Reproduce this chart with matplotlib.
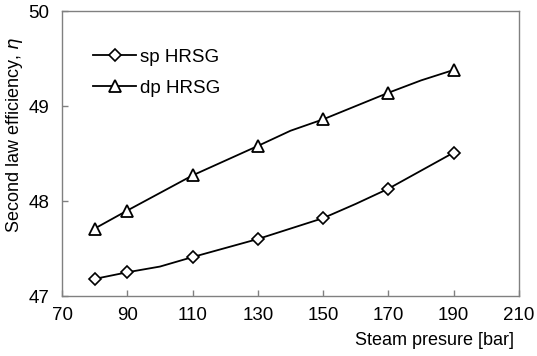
import matplotlib
matplotlib.use('Agg')
import matplotlib.pyplot as plt
import numpy as np

plt.rcParams['font.family'] = ['Liberation Sans', 'DejaVu Sans']
plt.rcParams['mathtext.fontset'] = 'dejavusans'

# steam pressure [bar]
pressure = [80, 90, 100, 110, 130, 150, 160, 170, 190]
sp_eff = [47.18, 47.25, 47.31, 47.41, 47.60, 47.82, 47.97, 48.13, 48.51]
pressure_dp = [80, 90, 110, 130, 140, 150, 170, 180, 190]
dp_eff = [47.71, 47.90, 48.27, 48.58, 48.74, 48.86, 49.14, 49.27, 49.38]
sp_marked = [0, 1, 3, 4, 5, 7, 8]
dp_marked = [0, 1, 2, 3, 5, 6, 8]

xticks = [70, 90, 110, 130, 150, 170, 190, 210]
yticks = [47, 48, 49, 50]

fig = plt.figure(figsize=(5.37, 3.56), dpi=100)
ax = fig.add_axes([0.1155, 0.1685, 0.851, 0.8005])

ax.plot(pressure, sp_eff, color='black', lw=1.3, marker='D', ms=6,
        mfc='white', mec='black', mew=1.2, markevery=sp_marked, label='sp HRSG')
ax.plot(pressure_dp, dp_eff, color='black', lw=1.3, marker='^', ms=8.5,
        mfc='white', mec='black', mew=1.3, markevery=dp_marked, label='dp HRSG')

ax.set_xlim(70, 210)
ax.set_ylim(47, 50)
ax.set_xticks(xticks)
ax.set_yticks(yticks)
ax.tick_params(direction='in', length=4, width=1, color='#808080',
               labelsize=13.5, pad=8)
ax.tick_params(axis='y', pad=9)
for s in ax.spines.values():
  s.set_color('#808080')
  s.set_linewidth(1.0)

ax.set_xlabel('Steam presure [bar]', fontsize=13, loc='right')
ax.xaxis.set_label_coords(0.99, -0.126)
ax.set_ylabel('Second law efficiency, $\\eta$', fontsize=13)
ax.yaxis.set_label_coords(-0.082, 0.565)

ax.legend(loc='upper left', bbox_to_anchor=(0.068, 0.868), frameon=False,
          fontsize=13.5, handlelength=2.3, handletextpad=0.2, labelspacing=0.75,
          borderaxespad=0, borderpad=0)

fig.savefig('out.png', dpi=100)
